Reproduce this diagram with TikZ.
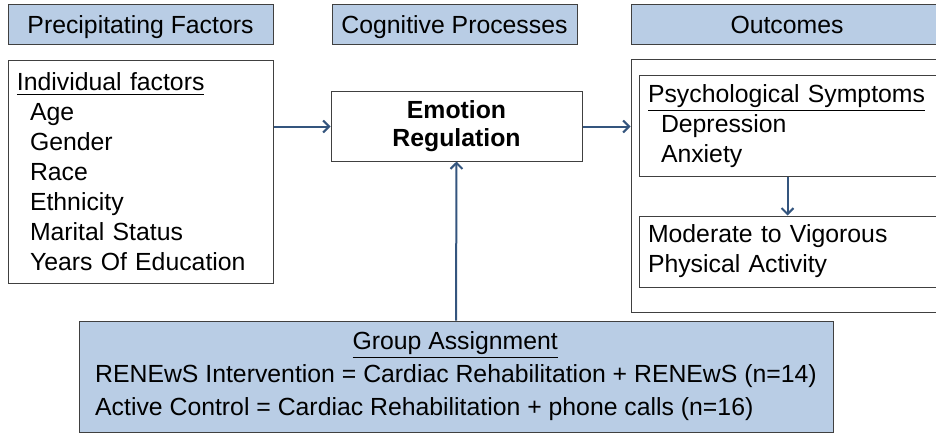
\documentclass[tikz,border=0pt]{standalone}
\usepackage{fontspec}
\setmainfont{Liberation Sans}
\usetikzlibrary{arrows.meta}
\definecolor{hdrblue}{HTML}{B9CDE5}
\definecolor{boxline}{HTML}{404040}
\definecolor{arrblue}{HTML}{34557E}
\begin{document}
\begin{tikzpicture}[x=0.5pt, y=-0.5pt,
        font=\fontsize{12.4}{15}\selectfont,
        box/.style={draw=boxline, line width=0.5pt, rectangle, inner sep=0pt},
        header/.style={box, fill=hdrblue, minimum height=20pt, text height=9pt, text depth=0.5pt},
        arr/.style={draw=arrblue, line width=1pt, -{Straight Barb[length=3pt,width=6pt]}}]
    \path[use as bounding box, clip] (0,0) rectangle (936,433);

    % column headers
    \node[header, minimum width=132.5pt] (hPF) at (140.5,25) {Precipitating Factors};
    \node[header, minimum width=122.5pt] (hCP) at (454.5,25) {Cognitive Processes};
    \node[header, minimum width=156pt] (hOut) at (787,25) {Outcomes};

    \node[box, minimum width=132.5pt, minimum height=111pt, inner xsep=4.5pt,
        text width=123.5pt, align=left] (indiv) at (140.5,172)
        {\underline{Individual factors}\\
         \hspace*{6.5pt}Age\\
         \hspace*{6.5pt}Gender\\
         \hspace*{6.5pt}Race\\
         \hspace*{6.5pt}Ethnicity\\
         \hspace*{6.5pt}Marital Status\\
         \hspace*{6.5pt}Years Of Education};

    \node[box, minimum width=125.5pt, minimum height=34.5pt, align=center,
        font=\fontsize{12.4}{14}\selectfont\bfseries] (ER) at (456.5,126.5)
        {Emotion\\Regulation};

    \node[box, minimum width=164.5pt, minimum height=126pt] (outer) at (795.5,186) {};
    \node[box, minimum width=160.5pt, minimum height=50pt, inner xsep=4.5pt,
        text width=151.5pt, align=left] (psych) at (799.5,126)
        {\underline{Psychological Symptoms}\\
         \hspace*{6.5pt}Depression\\
         \hspace*{6.5pt}Anxiety};
    \node[box, minimum width=160.5pt, minimum height=35.5pt, inner xsep=4.5pt,
        text width=151.5pt, align=left] (mvpa) at (799.5,251.5)
        {Moderate to Vigorous\\Physical Activity};

    \node[box, fill=hdrblue, minimum width=377pt, minimum height=55.5pt, align=left,
        font=\fontsize{12.4}{16.5}\selectfont] (group) at (456,376.5)
        {\makebox[360pt]{\underline{Group Assignment}}\\
         RENEwS Intervention = Cardiac Rehabilitation + RENEwS (n=14)\\
         Active Control = Cardiac Rehabilitation + phone calls (n=16)};

    \draw[arr] (indiv.east |- ER.west) -- (ER.west);
    \draw[arr] (ER.east) -- (ER.east -| outer.west);
    \draw[arr] (group.north) -- (ER.south);
    \draw[arr] ([xshift=74.5pt]psych.south west) -- ([xshift=74.5pt]mvpa.north west);
\end{tikzpicture}
\end{document}
